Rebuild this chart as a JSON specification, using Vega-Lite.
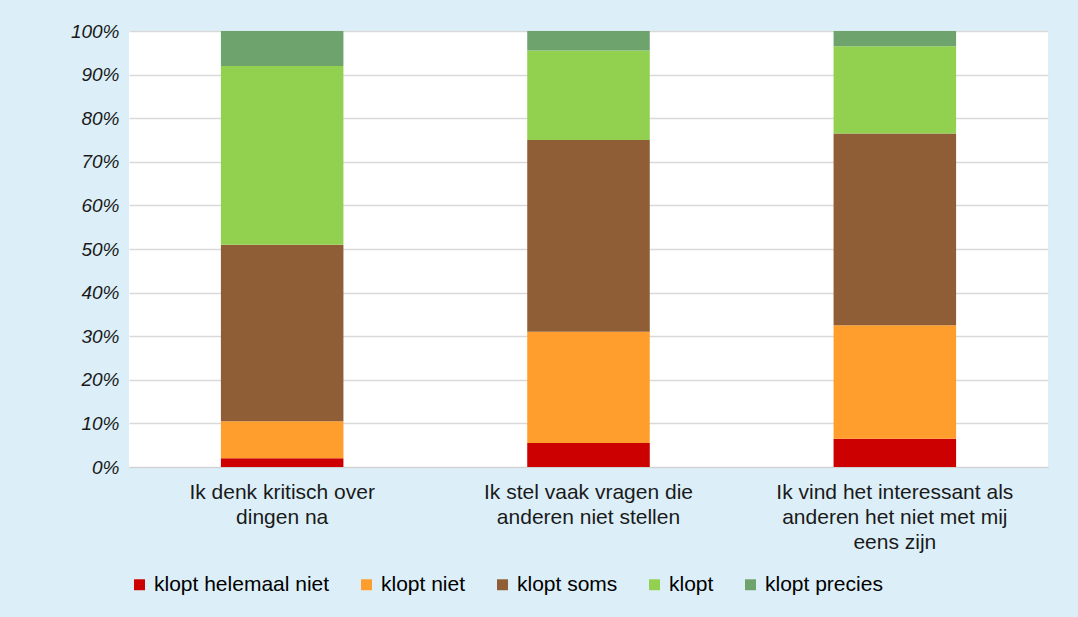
{
  "$schema": "https://vega.github.io/schema/vega-lite/v6.json",
  "autosize": {"type": "fit", "contains": "padding"},
  "width": 1078,
  "height": 617,
  "padding": {"left": 70, "top": 22, "right": 30, "bottom": 22},
  "background": "#DCEFF8",
  "config": {
    "view": {"fill": "#FFFFFF", "stroke": null},
    "font": "Liberation Sans",
    "axis": {"labelFont": "Liberation Sans", "labelColor": "#1A1A1A"},
    "legend": {"labelFont": "Liberation Sans"}
  },
  "data": {
    "values": [
      {"stelling": "Ik denk kritisch over dingen na", "antwoord": "klopt helemaal niet", "volgorde": 1, "aandeel": 0.02},
      {"stelling": "Ik denk kritisch over dingen na", "antwoord": "klopt niet", "volgorde": 2, "aandeel": 0.085},
      {"stelling": "Ik denk kritisch over dingen na", "antwoord": "klopt soms", "volgorde": 3, "aandeel": 0.405},
      {"stelling": "Ik denk kritisch over dingen na", "antwoord": "klopt", "volgorde": 4, "aandeel": 0.41},
      {"stelling": "Ik denk kritisch over dingen na", "antwoord": "klopt precies", "volgorde": 5, "aandeel": 0.08},
      {"stelling": "Ik stel vaak vragen die anderen niet stellen", "antwoord": "klopt helemaal niet", "volgorde": 1, "aandeel": 0.055},
      {"stelling": "Ik stel vaak vragen die anderen niet stellen", "antwoord": "klopt niet", "volgorde": 2, "aandeel": 0.255},
      {"stelling": "Ik stel vaak vragen die anderen niet stellen", "antwoord": "klopt soms", "volgorde": 3, "aandeel": 0.44},
      {"stelling": "Ik stel vaak vragen die anderen niet stellen", "antwoord": "klopt", "volgorde": 4, "aandeel": 0.205},
      {"stelling": "Ik stel vaak vragen die anderen niet stellen", "antwoord": "klopt precies", "volgorde": 5, "aandeel": 0.045},
      {"stelling": "Ik vind het interessant als anderen het niet met mij eens zijn", "antwoord": "klopt helemaal niet", "volgorde": 1, "aandeel": 0.065},
      {"stelling": "Ik vind het interessant als anderen het niet met mij eens zijn", "antwoord": "klopt niet", "volgorde": 2, "aandeel": 0.26},
      {"stelling": "Ik vind het interessant als anderen het niet met mij eens zijn", "antwoord": "klopt soms", "volgorde": 3, "aandeel": 0.44},
      {"stelling": "Ik vind het interessant als anderen het niet met mij eens zijn", "antwoord": "klopt", "volgorde": 4, "aandeel": 0.20},
      {"stelling": "Ik vind het interessant als anderen het niet met mij eens zijn", "antwoord": "klopt precies", "volgorde": 5, "aandeel": 0.035}
    ]
  },
  "mark": {"type": "bar"},
  "encoding": {
    "x": {
      "field": "stelling",
      "type": "nominal",
      "sort": null,
      "scale": {"paddingInner": 0.6, "paddingOuter": 0.3},
      "axis": {
        "title": null,
        "labelAngle": 0,
        "labelFontSize": 21,
        "labelLineHeight": 25,
        "labelPadding": 14,
        "labelLimit": 0,
        "ticks": false,
        "domainColor": "#D0D0D0",
        "labelExpr": "datum.value == 'Ik denk kritisch over dingen na' ? ['Ik denk kritisch over', 'dingen na'] : datum.value == 'Ik stel vaak vragen die anderen niet stellen' ? ['Ik stel vaak vragen die', 'anderen niet stellen'] : ['Ik vind het interessant als', 'anderen het niet met mij', 'eens zijn']"
      }
    },
    "y": {
      "field": "aandeel",
      "type": "quantitative",
      "stack": "zero",
      "scale": {"domain": [0, 1]},
      "axis": {
        "title": null,
        "format": ".0%",
        "values": [0, 0.1, 0.2, 0.3, 0.4, 0.5, 0.6, 0.7, 0.8, 0.9, 1],
        "labelOverlap": false,
        "labelFontSize": 19,
        "labelFontStyle": "italic",
        "labelPadding": 10,
        "ticks": false,
        "domain": false,
        "gridColor": "#D9D9D9",
        "gridWidth": 1.5
      }
    },
    "color": {
      "field": "antwoord",
      "type": "nominal",
      "sort": ["klopt helemaal niet", "klopt niet", "klopt soms", "klopt", "klopt precies"],
      "scale": {
        "domain": ["klopt helemaal niet", "klopt niet", "klopt soms", "klopt", "klopt precies"],
        "range": ["#CC0000", "#FF9E2C", "#8F5E36", "#92D050", "#6FA36E"]
      },
      "legend": {
        "title": null,
        "orient": "bottom",
        "direction": "horizontal",
        "symbolType": "square",
        "symbolSize": 120,
        "labelFontSize": 21,
        "labelLimit": 0,
        "columnPadding": 26,
        "offset": 22
      }
    },
    "order": {"field": "volgorde", "type": "quantitative"}
  }
}
